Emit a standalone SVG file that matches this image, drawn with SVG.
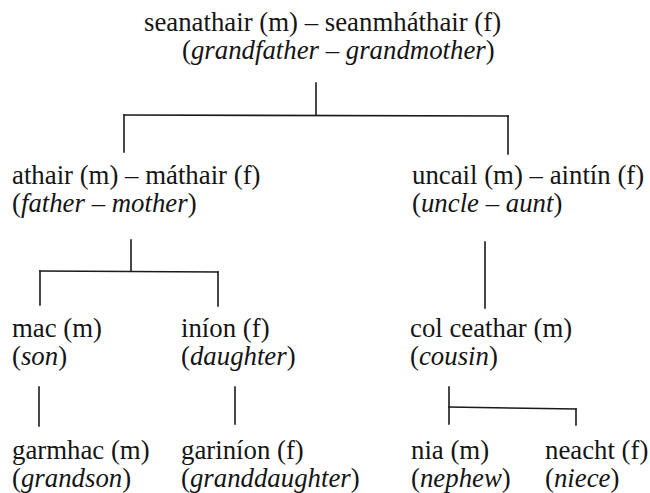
<svg xmlns="http://www.w3.org/2000/svg" width="650" height="493" viewBox="0 0 650 493">
<style>
text{font-family:"Liberation Serif","Times New Roman",serif;font-size:26.8px;fill:#151515}
.i{font-style:italic}
.c line{stroke:#1a1a1a;stroke-width:1.6;stroke-linecap:square}
</style>
<rect width="650" height="493" fill="#fff"/>
<g class="c" id="connectors">
<line x1="316" y1="83" x2="316" y2="115"/>
<line x1="124" y1="115" x2="508" y2="116"/>
<line x1="124" y1="115" x2="124" y2="152"/>
<line x1="508" y1="116" x2="508" y2="154"/>
<line x1="131" y1="240" x2="131" y2="271"/>
<line x1="40" y1="271" x2="218" y2="272"/>
<line x1="40" y1="271" x2="40" y2="305"/>
<line x1="218" y1="272" x2="218" y2="306"/>
<line x1="485" y1="242" x2="485" y2="308"/>
<line x1="39" y1="387" x2="39" y2="426"/>
<line x1="235" y1="387" x2="235" y2="424"/>
<line x1="449" y1="387" x2="449" y2="424"/>
<line x1="449" y1="407" x2="576" y2="409"/>
<line x1="576" y1="409" x2="576" y2="425"/>
</g>
<g id="grandparents">
<text x="144" y="31">seanathair (m) – seanmháthair (f)</text>
<text x="182" y="59">(<tspan class="i">grandfather</tspan> – <tspan class="i">grandmother</tspan>)</text>
</g>
<g id="parents">
<text x="12" y="184">athair (m) – máthair (f)</text>
<text x="12" y="212">(<tspan class="i">father</tspan> – <tspan class="i">mother</tspan>)</text>
</g>
<g id="uncle-aunt">
<text x="412" y="184">uncail (m) – aintín (f)</text>
<text x="412" y="212">(<tspan class="i">uncle</tspan> – <tspan class="i">aunt</tspan>)</text>
</g>
<g id="son">
<text x="12" y="337">mac (m)</text>
<text x="12" y="365">(<tspan class="i">son</tspan>)</text>
</g>
<g id="daughter">
<text x="181" y="337">iníon (f)</text>
<text x="181" y="365">(<tspan class="i">daughter</tspan>)</text>
</g>
<g id="cousin">
<text x="410" y="337">col ceathar (m)</text>
<text x="410" y="365">(<tspan class="i">cousin</tspan>)</text>
</g>
<g id="grandson">
<text x="12" y="459">garmhac (m)</text>
<text x="12" y="487">(<tspan class="i">grandson</tspan>)</text>
</g>
<g id="granddaughter">
<text x="181" y="459">gariníon (f)</text>
<text x="181" y="487">(<tspan class="i">granddaughter</tspan>)</text>
</g>
<g id="nephew">
<text x="411" y="459">nia (m)</text>
<text x="411" y="487">(<tspan class="i">nephew</tspan>)</text>
</g>
<g id="niece">
<text x="545" y="459">neacht (f)</text>
<text x="545" y="487">(<tspan class="i">niece</tspan>)</text>
</g>
</svg>
